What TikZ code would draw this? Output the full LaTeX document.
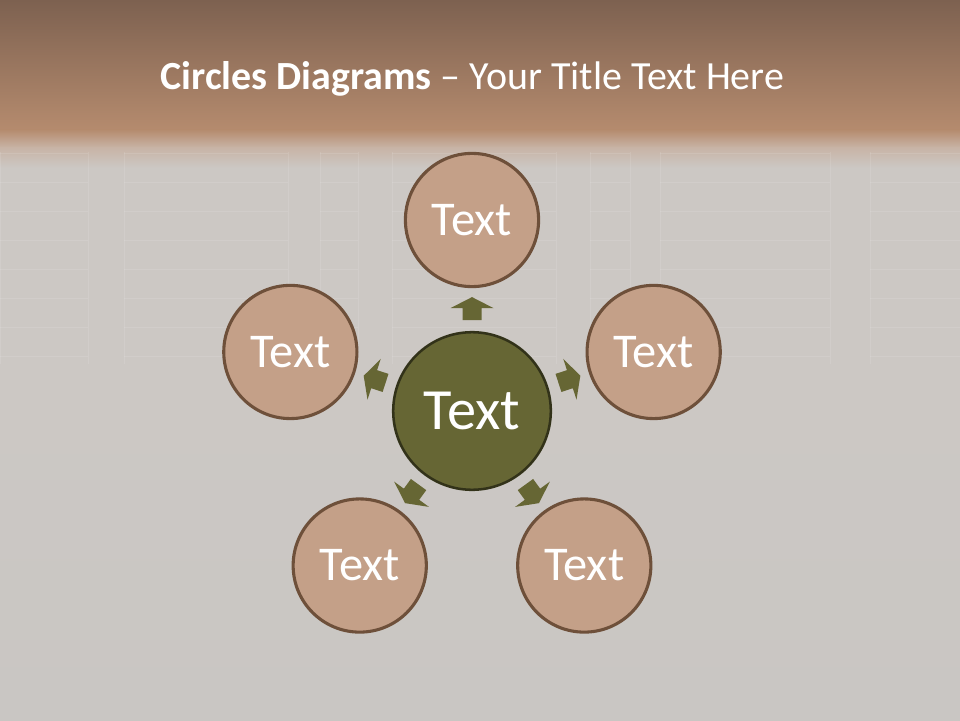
\documentclass[tikz,border=0pt]{standalone}
\usepackage{fontspec}
\setmainfont{Carlito}
\usetikzlibrary{calc}

\definecolor{bandtop}{HTML}{7D6150}
\definecolor{bandlow}{HTML}{B58B6E}
\definecolor{bandfade}{HTML}{C8B4A6}
\definecolor{wallgrey}{HTML}{CCC8C4}
\definecolor{wallgreylow}{HTML}{C9C6C3}
\definecolor{satfill}{HTML}{C4A088}
\definecolor{satrim}{HTML}{6E503A}
\definecolor{hubfill}{HTML}{666634}
\definecolor{hubrim}{HTML}{323219}

\tikzset{
  satellite/.style={circle, draw=satrim, line width=2.2pt, fill=satfill,
    minimum size=3.33cm, inner sep=0pt, text=white,
    font=\fontsize{34.5}{41}\selectfont},
  hub/.style={circle, draw=hubrim, line width=1.8pt, fill=hubfill,
    minimum size=3.94cm, inner sep=0pt, text=white,
    font=\fontsize{41.5}{48}\selectfont},
  slidetitle/.style={text=white, font=\fontsize{28.4}{34}\selectfont, anchor=base},
  shelfline/.style={white, opacity=0.1, line width=0.6pt},
  blockarrow/.pic={
    \fill[hubfill] (0.2875,0) -- (0.0125,0.5375) -- (0.0125,0.2375)
      -- (-0.2875,0.2375) -- (-0.2875,-0.2375) -- (0.0125,-0.2375)
      -- (0.0125,-0.5375) -- cycle;
  }
}

\begin{document}
\begin{tikzpicture}
    \useasboundingbox (0,0) rectangle (24,18);

    % Background: brown band, fade, grey wall
    \fill[wallgrey] (0,0) rectangle (24,13.9);
    \fill[top color=wallgrey, bottom color=wallgreylow] (0,0) rectangle (24,8);
    \fill[top color=bandtop, bottom color=bandlow] (0,14.75) rectangle (24,18);
    \fill[top color=bandlow, bottom color=bandfade] (0,14.3) rectangle (24,14.76);
    \fill[top color=bandfade, bottom color=wallgrey] (0,13.8) rectangle (24,14.31);

    % Faint shelves
    \foreach \xa/\xb in {0/2.2, 3.1/7.2, 8/8.95, 9.8/13.9, 14.75/15.75, 16.5/20.75, 21.75/24}{
        \foreach \k in {0,...,7}{
            \draw[shelfline] (\xa,{14.17-0.725*\k}) -- (\xb,{14.17-0.725*\k});
        }
        \draw[shelfline] (\xa,14.2) -- (\xa,8.9);
        \draw[shelfline] (\xb,14.2) -- (\xb,8.9);
    }

    % Title
    \node[slidetitle] (title) at (11.81,15.75) {\textbf{Circles Diagrams} – Your Title Text Here};

    % Centre circle
    \node[hub] (hub) at (11.8,7.725) {Text};

    % Outer circles and arrows
    \foreach \a/\n in {90/top, 18/right, -54/lowright, -126/lowleft, 162/left}{
        \node[satellite] (sat-\n) at ($(hub)+(\a:4.775)$) {Text};
        \pic[rotate=\a] at ($(hub)!2.56cm!(sat-\n)$) {blockarrow};
    }
\end{tikzpicture}
\end{document}
